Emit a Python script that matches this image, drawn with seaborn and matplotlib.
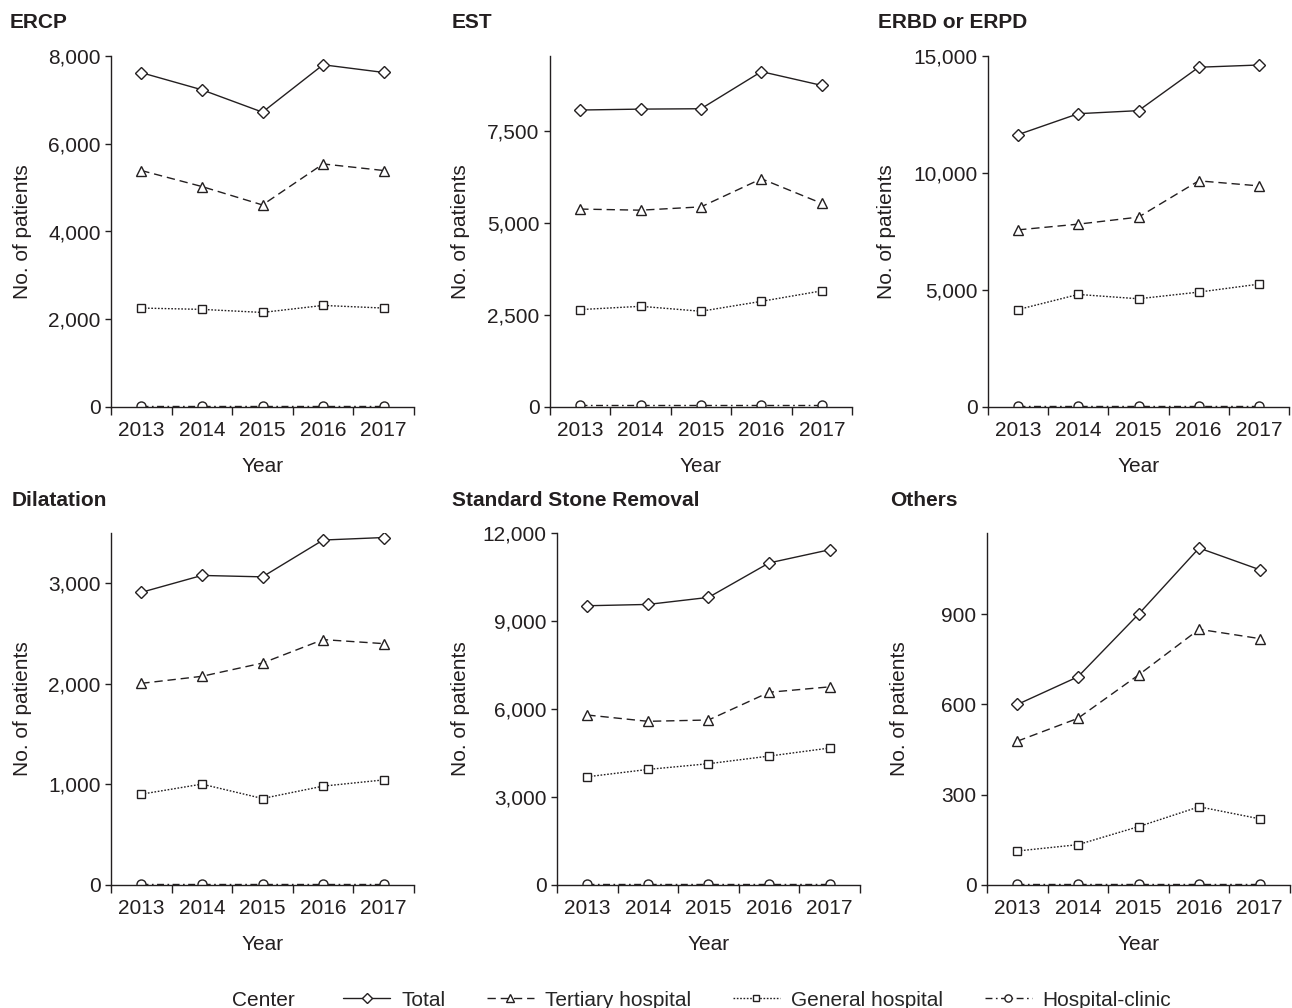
import matplotlib
matplotlib.use("Agg")
import matplotlib.pyplot as plt
import matplotlib.ticker as mticker
import seaborn as sns
import numpy as np
import pandas as pd

years = ["2013", "2014", "2015", "2016", "2017"]
centers = ["Total", "Tertiary hospital", "General hospital", "Hospital-clinic"]

panel_titles = ["ERCP", "EST", "ERBD or ERPD", "Dilatation", "Standard Stone Removal", "Others"]

ercp_total = [7620, 7230, 6720, 7800, 7625]
ercp_tertiary = [5390, 5025, 4605, 5540, 5390]
ercp_general = [2255, 2225, 2155, 2315, 2255]
ercp_clinic = [30, 30, 30, 30, 30]

est_total = [8080, 8105, 8115, 9125, 8750]
est_tertiary = [5385, 5355, 5445, 6210, 5540]
est_general = [2650, 2740, 2605, 2875, 3160]
est_clinic = [55, 55, 55, 55, 55]

erbd_total = [11640, 12535, 12665, 14520, 14615]
erbd_tertiary = [7570, 7815, 8115, 9665, 9450]
erbd_general = [4165, 4810, 4625, 4910, 5250]
erbd_clinic = [40, 40, 40, 40, 40]

dil_total = [2910, 3078, 3064, 3430, 3455]
dil_tertiary = [2005, 2075, 2207, 2440, 2400]
dil_general = [903, 1003, 860, 983, 1045]
dil_clinic = [10, 10, 10, 10, 10]

ssr_total = [9520, 9565, 9805, 10980, 11430]
ssr_tertiary = [5795, 5580, 5625, 6570, 6755]
ssr_general = [3690, 3940, 4135, 4395, 4670]
ssr_clinic = [30, 30, 30, 30, 30]

oth_total = [600, 692, 900, 1120, 1048]
oth_tertiary = [478, 554, 698, 850, 819]
oth_general = [113, 134, 194, 260, 220]
oth_clinic = [2, 2, 2, 2, 2]

panel_data = [
    [ercp_total, ercp_tertiary, ercp_general, ercp_clinic],
    [est_total, est_tertiary, est_general, est_clinic],
    [erbd_total, erbd_tertiary, erbd_general, erbd_clinic],
    [dil_total, dil_tertiary, dil_general, dil_clinic],
    [ssr_total, ssr_tertiary, ssr_general, ssr_clinic],
    [oth_total, oth_tertiary, oth_general, oth_clinic],
]

ylims = [8000, 9550, 15000, 3500, 12000, 1170]
yticks = [
    [0, 2000, 4000, 6000, 8000],
    [0, 2500, 5000, 7500],
    [0, 5000, 10000, 15000],
    [0, 1000, 2000, 3000],
    [0, 3000, 6000, 9000, 12000],
    [0, 300, 600, 900],
]

sns.set_style("ticks")
plt.rcParams["font.family"] = ["Liberation Sans", "DejaVu Sans"]

INK = "#231f20"
FS = 15
styles = [
    dict(linestyle="-", marker="D", markersize=6.5),
    dict(linestyle=(0, (6, 3.5)), marker="^", markersize=7.5),
    dict(linestyle=(0, (1.2, 1.2)), marker="s", markersize=6.0),
    dict(linestyle=(0, (5, 2.5, 1.2, 2.5)), marker="o", markersize=6.5),
]

W, H = 1292, 1008
fig = plt.figure(figsize=(W / 100, H / 100), dpi=100)

# axes rectangles in pixel coords: (left, top, right, bottom)
rects = [
    (111, 56, 414, 407),
    (550, 56, 852, 407),
    (988, 56, 1289, 407),
    (111, 533, 414, 885),
    (557, 533, 860, 885),
    (987, 533, 1290, 885),
]
title_pos = [(10, 22), (452, 22), (878, 22), (12, 500), (452, 500), (890, 500)]
ylabel_x = [21, 459, 885, 21, 459, 898]

xpos = np.arange(len(years))
for i, (l, t, r, b) in enumerate(rects):
    ax = fig.add_axes([l / W, 1 - b / H, (r - l) / W, (b - t) / H])
    for j, c in enumerate(centers):
        df = pd.DataFrame({"x": xpos, "y": panel_data[i][j]})
        sns.lineplot(data=df, x="x", y="y", ax=ax, color=INK, linewidth=1.0,
                     markerfacecolor="white", markeredgecolor=INK,
                     markeredgewidth=1.0, label=c, **styles[j])
    if ax.get_legend() is not None:
        ax.get_legend().remove()
    ax.set_xlim(-0.5, 4.5)
    ax.set_ylim(0, ylims[i])
    ax.set_yticks(yticks[i])
    ax.yaxis.set_major_formatter(mticker.FuncFormatter(lambda v, p: f"{int(v):,}"))
    ax.set_xticks(np.arange(-0.5, 5.0, 1.0))
    ax.set_xticklabels([])
    ax.set_xticks(xpos, minor=True)
    ax.set_xticklabels(years, minor=True)
    ax.tick_params(axis="x", which="major", length=5.5, width=1.0, color=INK, direction="out")
    ax.tick_params(axis="x", which="minor", length=0, pad=10, labelsize=FS, labelcolor=INK)
    ax.tick_params(axis="y", length=4.5, width=1.0, color=INK, labelsize=FS, labelcolor=INK, pad=3)
    for s in ["left", "bottom"]:
        ax.spines[s].set_linewidth(1.0)
        ax.spines[s].set_color(INK)
    sns.despine(ax=ax)
    ax.set_xlabel("Year", fontsize=FS, color=INK, labelpad=12)
    ax.set_ylabel("No. of patients", fontsize=FS, color=INK)
    ax.yaxis.set_label_coords((ylabel_x[i] + 11) / W, 1 - ((t + b) / 2) / H,
                              transform=fig.transFigure)
    tx, ty = title_pos[i]
    fig.text(tx / W, 1 - ty / H, panel_titles[i], fontsize=15, fontweight="bold",
             color=INK, ha="left", va="center")
    if i == 0:
        handles, labels = ax.get_legend_handles_labels()

fig.text(232 / W, 1 - 1000 / H, "Center", fontsize=FS, color=INK, ha="left", va="center")
fig.legend(handles, labels, loc="center left", bbox_to_anchor=(343 / W, 1 - 1000 / H),
           ncol=4, frameon=False, fontsize=FS, handlelength=2.26, columnspacing=2.0,
           handletextpad=0.53, borderaxespad=0, borderpad=0, markerscale=0.8)

fig.savefig("out.png", dpi=100)
